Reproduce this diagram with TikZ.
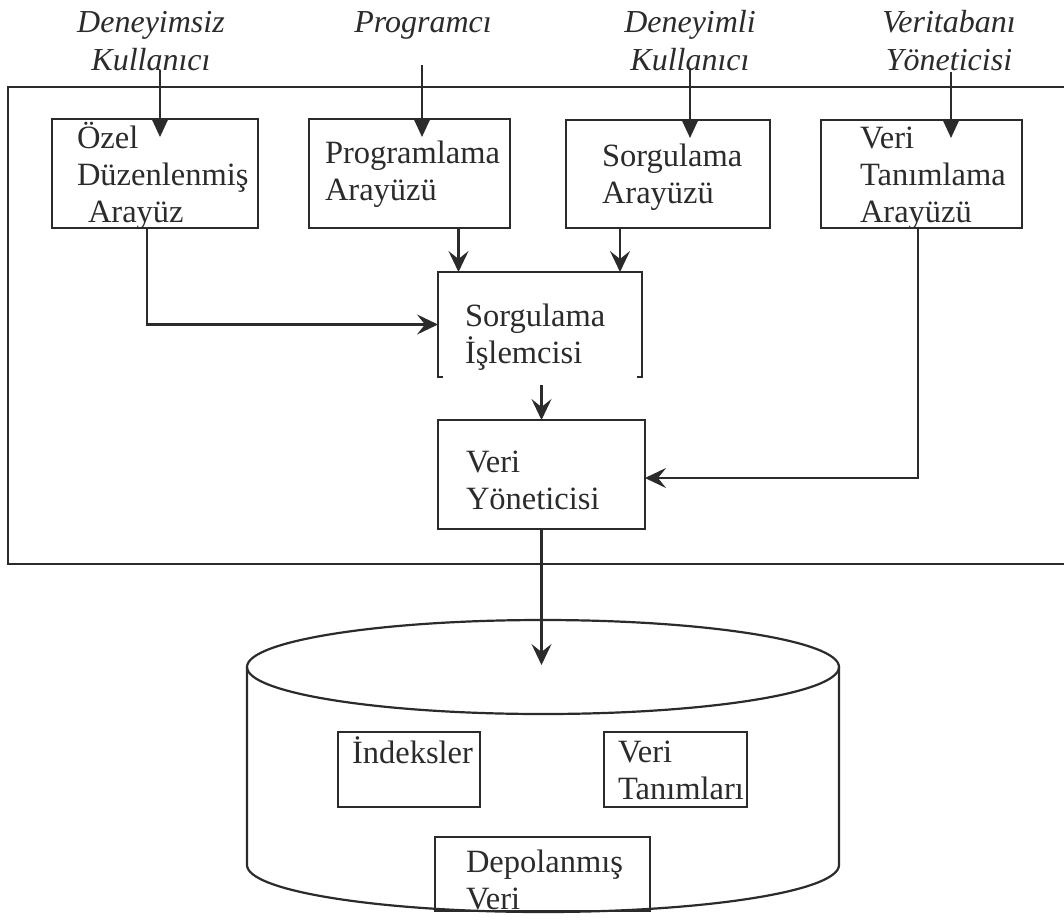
\documentclass[tikz,border=0pt]{standalone}
\usepackage{fontspec}
\setmainfont{Liberation Serif}
\usetikzlibrary{arrows.meta,calc}
\definecolor{ink}{HTML}{2B2B2B}
% multi-line text whose baseline is the baseline of its first line
\newcommand{\linesl}[1]{\vtop{\baselineskip=37pt\lineskip=0pt\lineskiplimit=-100pt\halign{##\hfil\cr#1\crcr}}}
\newcommand{\linesc}[1]{\vtop{\baselineskip=38pt\lineskip=0pt\lineskiplimit=-100pt\halign{\hfil##\hfil\cr#1\crcr}}}
\begin{document}
\begin{tikzpicture}[x=1pt,y=-1pt,
  box/.style={draw=ink,line width=2.2pt,inner sep=0pt,outer sep=0pt},
  area/.style={inner sep=0pt,outer sep=0pt},
  txt/.style={inner sep=0pt,outer sep=0pt,anchor=base west,text=ink,font=\fontsize{32.5}{37}\selectfont},
  who/.style={inner sep=0pt,outer sep=0pt,anchor=base,text=ink,font=\fontsize{32}{38}\selectfont\itshape},
  tarr/.style={draw=ink,line width=2.2pt,-{Triangle[length=19pt,width=17pt]}},
  arr/.style={draw=ink,line width=2.2pt,-{Stealth[length=21pt,width=20pt,inset=8pt]}},
  frame/.style={draw=ink,line width=2.2pt}]
\fill[white] (0,0) rectangle (1064,921);
\useasboundingbox (0,0) rectangle (1064,921);

% outer system frame (open to the right)
\draw[frame] (1064,87) -- (8,87) -- (8,564) -- (1064,564);

% users
\node[who] (u1) at (151,32) {\linesc{Deneyimsiz\cr Kullanıcı}};
\node[who] (u2) at (423,32) {Programcı};
\node[who] (u3) at (690,32) {\linesc{Deneyimli\cr Kullanıcı}};
\node[who] (u4) at (949,32) {\linesc{Veritabanı\cr Yöneticisi}};

% interface boxes
\node[box,minimum width=206pt,minimum height=109pt] (B1) at (155,173.5) {};
\node[box,minimum width=201pt,minimum height=109pt] (B2) at (409.5,173.5) {};
\node[box,minimum width=204pt,minimum height=108pt] (B3) at (668,174) {};
\node[box,minimum width=201pt,minimum height=108pt] (B4) at (921.5,174) {};

\node[txt] (t1) at (77,148) {\linesl{Özel\cr Düzenlenmiş\cr\hspace*{11pt}Arayüz}};
\node[txt] (t2) at (325,163) {\linesl{Programlama\cr Arayüzü}};
\node[txt] (t3) at (602,166) {\linesl{Sorgulama\cr Arayüzü}};
\node[txt] (t4) at (860,148) {\linesl{Veri\cr Tanımlama\cr Arayüzü}};

% query processor (open at the bottom) and data manager
\node[area,minimum width=204pt,minimum height=105pt] (SI) at (540,324.5) {};
\draw[frame] ($(SI.south west)+(5,0)$) -- (SI.south west) -- (SI.north west)
  -- (SI.north east) -- (SI.south east) -- ++(-5,0);
\node[txt] (t5) at (465,326) {\linesl{Sorgulama\cr İşlemcisi}};

\node[box,minimum width=207pt,minimum height=109pt] (VY) at (541.5,474.5) {};
\node[txt] (t6) at (466,472) {\linesl{Veri\cr Yöneticisi}};

% database cylinder
\draw[frame] (543,667) ellipse [x radius=296,y radius=47];
\draw[frame] (247,667) -- (247,865)
  arc[start angle=180,end angle=0,x radius=296,y radius=47] -- (839,667);

\node[box,minimum width=142pt,minimum height=75pt] (IX) at (409,769.5) {};
\node[box,minimum width=143pt,minimum height=75pt] (VT) at (675.5,769.5) {};
\node[box,minimum width=215pt,minimum height=74pt] (DV) at (542.5,874) {};
\node[txt] (t7) at (352,763) {İndeksler};
\node[txt] (t8) at (618,762) {\linesl{Veri\cr Tanımları}};
\node[txt] (t9) at (466,872) {\linesl{Depolanmış\cr Veri}};

% user arrows
\coordinate (s1) at (160,70);
\coordinate (s2) at (422,65);
\coordinate (s3) at (690,70);
\coordinate (s4) at (951,72);
\draw[tarr] (s1) -- ($(s1 |- B1.north)+(0,18)$);
\draw[tarr] (s2) -- ($(s2 |- B2.north)+(0,18)$);
\draw[tarr] (s3) -- ($(s3 |- B3.north)+(0,18)$);
\draw[tarr] (s4) -- ($(s4 |- B4.north)+(0,18)$);

% internal flow
\coordinate (p1) at ($(B1.south)+(-8,0)$);
\coordinate (p2) at ($(B2.south)+(49,0)$);
\coordinate (p3) at ($(B3.south)+(-48,0)$);
\coordinate (p4) at ($(B4.south)+(-3.5,0)$);
\coordinate (p5) at ($(SI.south -| VY.north)+(0,8)$);
\coordinate (dbtop) at ($(VY.south)+(0,136)$);
\draw[arr] (p1) |- (SI.west);
\draw[arr] (p2) -- (p2 |- SI.north);
\draw[arr] (p3) -- (p3 |- SI.north);
\draw[arr] (p4) |- ($(VY.east)+(0,3.5)$);
\draw[arr] (p5) -- (VY.north);
\draw[arr] (VY.south) -- (dbtop);
\end{tikzpicture}
\end{document}
